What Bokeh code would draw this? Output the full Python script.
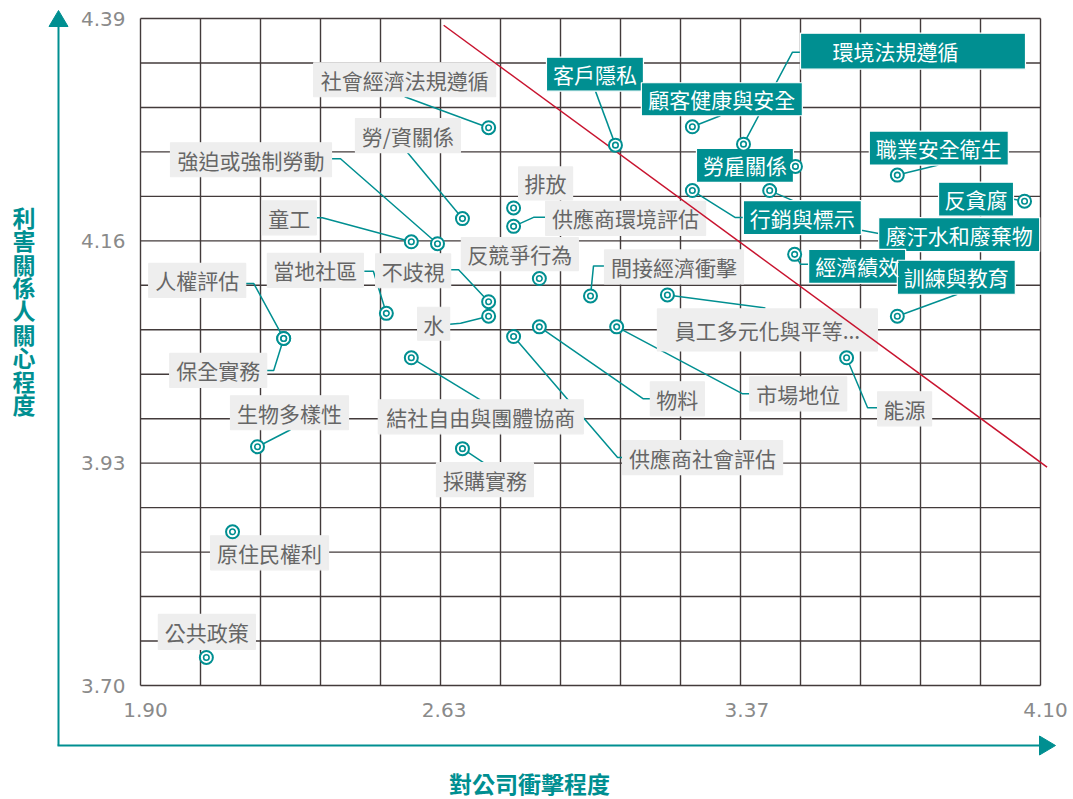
import numpy as np
from bokeh.plotting import figure
from bokeh.models import Range1d, ColumnDataSource
from bokeh.embed import file_html
from bokeh.resources import INLINE
from bokeh.core.properties import value

# ---------------- data ----------------
topics = ["社會經濟法規遵循", "客戶隱私", "顧客健康與安全", "環境法規遵循", "勞雇關係",
          "職業安全衛生", "反貪腐", "行銷與標示", "廢汙水和廢棄物", "勞/資關係",
          "排放", "供應商環境評估", "強迫或強制勞動", "童工", "經濟績效",
          "訓練與教育", "能源", "員工多元化與平等...", "間接經濟衝擊", "反競爭行為",
          "不歧視", "水", "當地社區", "物料", "市場地位",
          "供應商社會評估", "結社自由與團體協商", "採購實務", "人權評估", "保全實務",
          "生物多樣性", "原住民權利", "公共政策"]
impact = [2.751, 3.061, 3.249, 3.374, 3.501,
          3.750, 4.061, 3.249, 3.438, 2.687,
          2.812, 2.812, 2.626, 2.562, 3.499,
          3.750, 3.626, 3.188, 3.000, 2.875,
          2.751, 2.751, 2.501, 2.875, 3.064,
          2.812, 2.562, 2.687, 2.250, 2.250,
          2.186, 2.125, 2.061]
concern = [4.277, 4.259, 4.278, 4.260, 4.237,
           4.228, 4.201, 4.212, 4.212, 4.183,
           4.194, 4.175, 4.157, 4.159, 4.146,
           4.082, 4.039, 4.104, 4.103, 4.121,
           4.097, 4.082, 4.085, 4.071, 4.071,
           4.061, 4.039, 3.945, 4.059, 4.059,
           3.947, 3.859, 3.729]
material = [False, True, True, True, True,
            True, True, True, True, False,
            False, False, False, False, True,
            True, False, False, False, False,
            False, False, False, False, False,
            False, False, False, False, False,
            False, False, False]
x_ticks = [1.90, 2.63, 3.37, 4.10]
y_ticks = [3.70, 3.93, 4.16, 4.39]
threshold_x = [2.641, 4.116]
threshold_y = [4.383, 3.926]
x_title = "對公司衝擊程度"
y_title = "利害關係人關心程度"

# ---------------- layout (pixels, relative to each point) ----------------
# (box left dx, box top dy, box width, box height, leader waypoints from box to point)
label_layout = [
    (-175, -65, 182, 34, [(-84, -31)]),
    (-69, -88, 97, 34, [(-20, -54)]),
    (-51, -44, 161, 33, [(28, -11)]),
    (57, -111, 225, 36, [(57, -92), (49, -92)]),
    (-99, -18, 97, 34, []),
    (-28, -44, 139, 34, [(41, -10)]),
    (-86, -19, 75, 34, [(-11, -2)]),
    (51, 10, 118, 34, [(51, 27), (43, 27)]),
    (109, 27, 161, 34, [(109, 43), (93, 40)]),
    (-107, -100, 105, 34, [(-55, -66)]),
    (5, -41, 54, 33, []),
    (32, -25, 160, 34, [(32, -9), (20, -9)]),
    (-267, -101, 161, 34, [(-106, -85), (-97, -85)]),
    (-149, -41, 54, 34, [(-95, -24), (-89, -24)]),
    (14, -5, 97, 34, [(14, 10), (6, 10)]),
    (0, -56, 118, 34, [(60, -22)]),
    (31, 34, 54, 34, [(31, 50), (21, 50)]),
    (-10, 14, 220, 42, [(98, 13)]),
    (14, -46, 139, 34, [(14, -30), (3, -30)]),
    (-78, -41, 117, 33, []),
    (-113, -48, 75, 34, [(-38, -32), (-30, -32)]),
    (-71, -9, 32, 33, [(-39, 8), (-28, 7)]),
    (-119, -60, 96, 34, [(-22, -42), (-13, -42)]),
    (111, 55, 54, 34, [(111, 72), (104, 72)]),
    (133, 50, 97, 34, [(133, 67), (126, 67)]),
    (109, 104, 160, 34, [(109, 121), (104, 121)]),
    (-33, 42, 205, 34, [(69, 42)]),
    (-26, 14, 97, 34, [(21, 14)]),
    (-135, -75, 97, 34, [(-38, -55), (-30, -55)]),
    (-114, 15, 97, 34, [(-17, 32), (-10, 32)]),
    (-27, -51, 118, 34, [(33, -17)]),
    (-22, 4, 118, 34, []),
    (-48, -43, 97, 35, []),
]
text_shift = {3: 95}  # text centre measured from box left

TEAL = "#008f91"
GRAY_BOX = "#eeeeee"
GRAY_TXT = "#666666"
GRID_C = "#433b3b"
RED = "#c8142f"
CJK = "Noto Sans CJK TC"

FIG_W, FIG_H = 1073, 799
GRID_L, GRID_R, GRID_T, GRID_B = 140, 1040, 18, 685
X_MIN, X_MAX = x_ticks[0], x_ticks[-1]
Y_MIN, Y_MAX = y_ticks[0], y_ticks[-1]
sx = (GRID_R - GRID_L) / (X_MAX - X_MIN)
sy = (GRID_B - GRID_T) / (Y_MAX - Y_MIN)
x0 = X_MIN - GRID_L / sx
x1 = x0 + FIG_W / sx
y1 = Y_MAX + GRID_T / sy
y0 = y1 - FIG_H / sy


def to_px(x, y):
    return (x - x0) * sx, (y1 - y) * sy


def to_data(px, py):
    return x0 + px / sx, y1 - py / sy


p = figure(width=FIG_W, height=FIG_H, x_range=Range1d(x0, x1), y_range=Range1d(y0, y1),
           output_backend="svg", toolbar_location=None, min_border=0,
           x_axis_location=None, y_axis_location=None)
p.grid.visible = False
p.outline_line_color = None
p.background_fill_color = "white"
p.border_fill_color = "white"

# grid (15 x 15 cells)
n_div = 15
gx = [X_MIN + i * (X_MAX - X_MIN) / n_div for i in range(n_div + 1)]
gy = [Y_MIN + i * (Y_MAX - Y_MIN) / n_div for i in range(n_div + 1)]
p.segment(x0=gx, y0=[Y_MIN] * len(gx), x1=gx, y1=[Y_MAX] * len(gx), line_color=GRID_C, line_width=1.4)
p.segment(x0=[X_MIN] * len(gy), y0=gy, x1=[X_MAX] * len(gy), y1=gy, line_color=GRID_C, line_width=1.4)

# leaders & boxes
lead_xs, lead_ys = [], []
bl, br, bt, bb, bfill, bline = [], [], [], [], [], []
tx, ty, tcol = [], [], []
for i, (dx, dy, w, h, path) in enumerate(label_layout):
    px, py = to_px(impact[i], concern[i])
    if path:
        pts = [(px + a, py + b) for a, b in path] + [(px, py)]
        dpts = [to_data(a, b) for a, b in pts]
        lead_xs.append([d[0] for d in dpts])
        lead_ys.append([d[1] for d in dpts])
    L, T = px + dx, py + dy
    R, B = L + w, T + h
    (dl, dt), (dr, db) = to_data(L, T), to_data(R, B)
    bl.append(dl); br.append(dr); bt.append(dt); bb.append(db)
    bfill.append(TEAL if material[i] else GRAY_BOX)
    bline.append("white" if material[i] else GRAY_BOX)
    cx = L + text_shift.get(i, w / 2)
    cxd, cyd = to_data(cx, T + h / 2)
    tx.append(cxd); ty.append(cyd)
    tcol.append("white" if material[i] else GRAY_TXT)

p.multi_line(xs=lead_xs, ys=lead_ys, line_color=TEAL, line_width=1.5)

box_src = ColumnDataSource(dict(left=bl, right=br, top=bt, bottom=bb, fill=bfill, line=bline))
p.quad(left="left", right="right", top="top", bottom="bottom", fill_color="fill",
       line_color="line", line_width=1.2, source=box_src)

# threshold line
p.line(threshold_x, threshold_y, line_color=RED, line_width=1.5)

txt_src = ColumnDataSource(dict(x=tx, y=ty, t=topics, c=tcol))
p.text(x="x", y="y", text="t", text_color="c", source=txt_src, text_align="center",
       text_baseline="middle", text_font=value(CJK), text_font_size="21px")

# rings
p.scatter(impact, concern, marker="circle", size=13, fill_color="white", line_color=TEAL, line_width=2)
p.scatter(impact, concern, marker="circle", size=5.5, fill_color="white", line_color=TEAL, line_width=1.6)

# tick labels
p.text(x=x_ticks, y=[Y_MIN] * len(x_ticks), text=["%.2f" % v for v in x_ticks],
       x_offset=5, y_offset=24, text_align="center", text_baseline="middle",
       text_font=value("DejaVu Sans"), text_font_size="20px", text_color="#8a8a8a")
p.text(x=[X_MIN] * len(y_ticks), y=y_ticks, text=["%.2f" % v for v in y_ticks],
       x_offset=-15, y_offset=0, text_align="right", text_baseline="middle",
       text_font=value("DejaVu Sans"), text_font_size="20px", text_color="#8a8a8a")

# axis arrows
ax_px = GRID_L - 82
ay_px = GRID_B + 60
ya_x, _ = to_data(ax_px, 0)
_, ya_bot = to_data(0, ay_px)
_, ya_top = to_data(0, GRID_T + 8)
xa_l, _ = to_data(ax_px - 1, 0)
xa_r, _ = to_data(GRID_R - 1, 0)
p.line([ya_x, ya_x], [ya_bot, ya_top], line_color=TEAL, line_width=2)
p.line([xa_l, xa_r], [ya_bot, ya_bot], line_color=TEAL, line_width=2)
hx = [to_data(ax_px - 9.5, 0)[0], to_data(ax_px + 9.5, 0)[0], to_data(ax_px, 0)[0]]
hy = [to_data(0, GRID_T + 8)[1], to_data(0, GRID_T + 8)[1], to_data(0, GRID_T - 8)[1]]
rx = [to_data(GRID_R - 1, 0)[0], to_data(GRID_R - 1, 0)[0], to_data(GRID_R + 15, 0)[0]]
ry = [to_data(0, ay_px - 9.5)[1], to_data(0, ay_px + 9.5)[1], to_data(0, ay_px)[1]]
p.patches([hx, rx], [hy, ry], fill_color=TEAL, line_color=TEAL, line_width=1)

# axis titles
ytx, yty = to_data(23.5, 310)
p.text(x=[ytx], y=[yty], text=["\n".join(y_title)], text_align="center", text_baseline="middle",
       text_font=value(CJK), text_font_size="23px", text_font_style="bold",
       text_color=TEAL, text_line_height=0.69)
xtx, xty = to_data(529, 782)
p.text(x=[xtx], y=[xty], text=[x_title], text_align="center", text_baseline="middle",
       text_font=value(CJK), text_font_size="23px", text_font_style="bold", text_color=TEAL)

open("out.html", "w").write(file_html(p, INLINE))
